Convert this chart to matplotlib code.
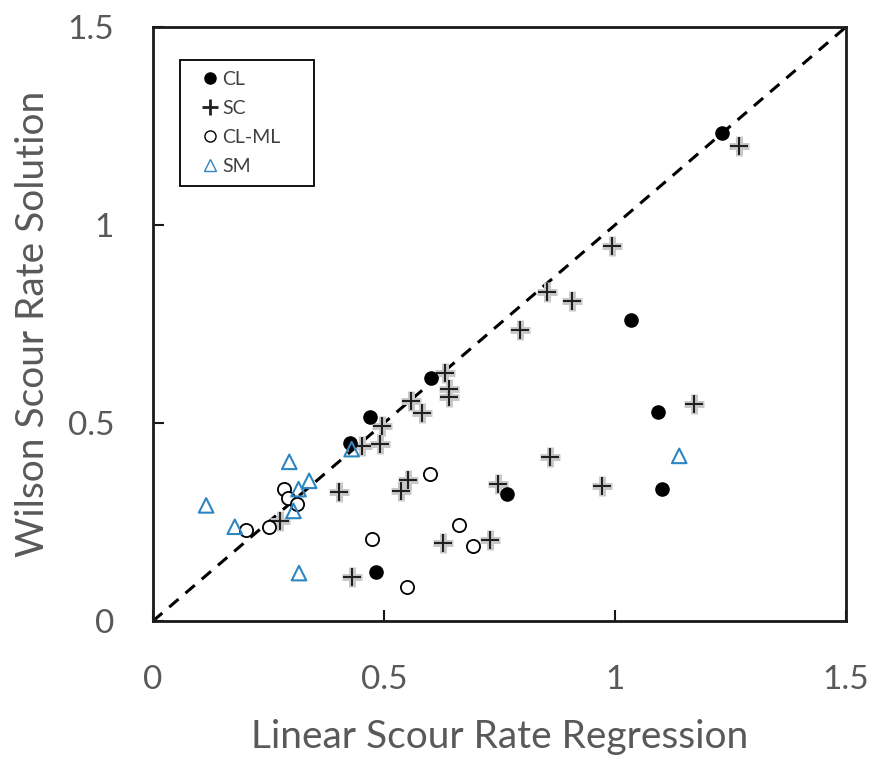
import matplotlib
matplotlib.use("Agg")
import matplotlib.pyplot as plt
from matplotlib.lines import Line2D
from matplotlib.patches import Rectangle

plt.rcParams['font.family'] = ['Lato', 'DejaVu Sans']

cl_x = [1.232, 1.035, 1.092, 1.101, 0.766, 0.482, 0.470, 0.601, 0.426]
cl_y = [1.233, 0.759, 0.527, 0.334, 0.320, 0.125, 0.516, 0.613, 0.450]

sc_x = [1.269, 0.993, 0.852, 0.908, 0.794, 1.170, 0.859, 0.971, 0.747, 0.632, 0.640, 0.640,
        0.558, 0.583, 0.496, 0.452, 0.491, 0.403, 0.553, 0.537, 0.628, 0.729, 0.430, 0.275]
sc_y = [1.200, 0.946, 0.830, 0.809, 0.736, 0.547, 0.414, 0.341, 0.345, 0.627, 0.585, 0.565,
        0.555, 0.526, 0.492, 0.442, 0.446, 0.327, 0.356, 0.329, 0.196, 0.204, 0.110, 0.253]

clml_x = [0.284, 0.293, 0.311, 0.201, 0.250, 0.600, 0.473, 0.549, 0.662, 0.692]
clml_y = [0.333, 0.310, 0.295, 0.229, 0.238, 0.371, 0.207, 0.085, 0.242, 0.190]

sm_x = [0.115, 0.177, 0.295, 0.316, 0.315, 0.338, 0.304, 0.430, 1.139]
sm_y = [0.292, 0.238, 0.402, 0.121, 0.333, 0.354, 0.278, 0.434, 0.417]

ticks = [0, 0.5, 1, 1.5]
tick_labels = ['0', '0.5', '1', '1.5']
series_names = ['CL', 'SC', 'CL-ML', 'SM']

fig = plt.figure(figsize=(8.76, 7.59), dpi=100)
ax = fig.add_axes([153/876, 1-621/759, (846-153)/876, (621-27)/759])

ax.plot([0, 1.5], [0, 1.5], ls=(0, (4, 3)), color='black', lw=2.2, zorder=1)

ax.scatter(sc_x, sc_y, marker='+', s=200, color='#c8c8c8', linewidths=5, zorder=2)
ax.scatter(sc_x, sc_y, marker='+', s=160, color='#202020', linewidths=1.5, zorder=3)
ax.scatter(cl_x, cl_y, marker='o', s=90, color='black', zorder=4)
ax.scatter(clml_x, clml_y, marker='o', s=90, facecolors='white', edgecolors='black', linewidths=1.3, zorder=4)
ax.scatter(sm_x, sm_y, marker='^', s=110, facecolors='none', edgecolors='#2e86c1', linewidths=1.5, zorder=5)

ax.set_xlim(0, 1.5)
ax.set_ylim(0, 1.5)
ax.set_xticks(ticks)
ax.set_xticklabels(tick_labels)
ax.set_yticks(ticks)
ax.set_yticklabels(tick_labels)
ax.tick_params(direction='in', length=8, width=1.5, labelsize=24, colors='#1a1a1a',
               labelcolor='#595959')
ax.tick_params(axis='y', pad=28)
ax.tick_params(axis='x', pad=32)
for s in ax.spines.values():
    s.set_linewidth(2)
    s.set_color('#1a1a1a')

ax.set_xlabel('Linear Scour Rate Regression', fontsize=28, color='#595959', labelpad=17)
ax.set_ylabel('Wilson Scour Rate Solution', fontsize=28, color='#595959', labelpad=12)

handles = [
    Line2D([], [], ls='none', marker='o', color='black', markersize=8),
    Line2D([], [], ls='none', marker='+', color='#202020', markersize=11, markeredgewidth=2),
    Line2D([], [], ls='none', marker='o', markerfacecolor='white', markeredgecolor='black', markersize=8),
    Line2D([], [], ls='none', marker='^', markerfacecolor='white', markeredgecolor='#2e86c1', markersize=9),
]
leg = ax.legend(handles, series_names, loc='upper left',
                bbox_to_anchor=(47/693, 1-(71-27)/594), fontsize=14, frameon=False,
                handlelength=1.0, handletextpad=0.15, labelspacing=0.62,
                borderpad=0.0, borderaxespad=0)
for t in leg.get_texts():
    t.set_color('#404040')
ax.add_patch(Rectangle((27/693, 1-(186-27)/594), 134/693, 126/594,
                       transform=ax.transAxes, fill=False, edgecolor='black',
                       linewidth=1.3, zorder=6))

fig.savefig('out.png', dpi=100)
